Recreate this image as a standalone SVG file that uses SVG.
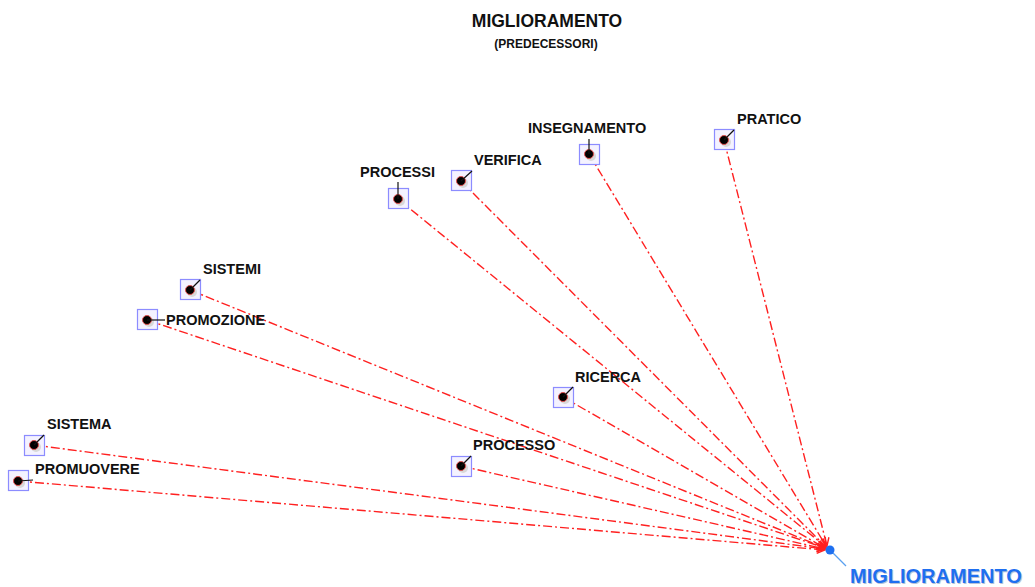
<svg xmlns="http://www.w3.org/2000/svg" width="1035" height="587" viewBox="0 0 1035 587">
  <style>
    .title { font-family: "Liberation Sans", Arial, sans-serif; font-weight: bold; fill: #111; }
    .lbl { font-family: "Liberation Sans", Arial, sans-serif; font-weight: bold; font-size: 14.5px; fill: #111; }
    .box { fill: #f4f2ff; stroke: #8c8cff; stroke-width: 1.2; }
    .halo { fill: #d8d8d8; }
    .dot { fill: #000; stroke: #e05050; stroke-width: 1; }
    .tick { stroke: #111; stroke-width: 1.2; fill: none; }
    .edge { stroke: #ff2020; stroke-width: 1.4; fill: none; stroke-dasharray: 9 3 2 3; marker-end: url(#arr); }
    .big { font-family: "Liberation Sans", Arial, sans-serif; font-weight: bold; font-size: 20px; }
  </style>
  <defs>
    <marker id="arr" markerWidth="10" markerHeight="10" refX="9" refY="5" orient="auto" markerUnits="userSpaceOnUse">
      <path d="M1,1 L9,5 L1,9" fill="none" stroke="#ff2020" stroke-width="1.4"/>
    </marker>
  </defs>

  <rect width="1035" height="587" fill="#fff"/>

  <text class="title" x="547" y="27" font-size="17.5" text-anchor="middle">MIGLIORAMENTO</text>
  <text class="title" x="546" y="48" font-size="12" text-anchor="middle">(PREDECESSORI)</text>

  <g id="connectors">
    <line class="edge" x1="724" y1="140" x2="827" y2="546"/>
    <line class="edge" x1="589" y1="154" x2="826" y2="546"/>
    <line class="edge" x1="461" y1="181" x2="826" y2="547"/>
    <line class="edge" x1="398" y1="199" x2="826" y2="547"/>
    <line class="edge" x1="190" y1="290" x2="825" y2="548"/>
    <line class="edge" x1="147" y1="320" x2="825" y2="548"/>
    <line class="edge" x1="563" y1="397" x2="825" y2="548"/>
    <line class="edge" x1="461" y1="466" x2="825" y2="549"/>
    <line class="edge" x1="34" y1="445" x2="825" y2="549"/>
    <line class="edge" x1="18" y1="481" x2="825" y2="550"/>
    <line x1="830" y1="550" x2="846" y2="566" stroke="#5aa0f0" stroke-width="1.3"/>
  </g>

  <g id="node-pratico">
    <rect class="box" x="714.5" y="129.5" width="20" height="20"/>
    <circle class="halo" cx="726" cy="142" r="5"/>
    <circle class="dot" cx="724" cy="140" r="4.5"/>
    <line class="tick" x1="724" y1="140" x2="734" y2="130"/>
    <text class="lbl" x="737" y="124">PRATICO</text>
  </g>

  <g id="node-insegnamento">
    <rect class="box" x="579.5" y="144.5" width="20" height="20"/>
    <circle class="halo" cx="591" cy="156" r="5"/>
    <circle class="dot" cx="589" cy="154" r="4.5"/>
    <line class="tick" x1="589" y1="154" x2="589" y2="139"/>
    <text class="lbl" x="528" y="133">INSEGNAMENTO</text>
  </g>

  <g id="node-verifica">
    <rect class="box" x="451.5" y="170.5" width="20" height="20"/>
    <circle class="halo" cx="463" cy="183" r="5"/>
    <circle class="dot" cx="461" cy="181" r="4.5"/>
    <line class="tick" x1="461" y1="181" x2="472" y2="171"/>
    <text class="lbl" x="474" y="165">VERIFICA</text>
  </g>

  <g id="node-processi">
    <rect class="box" x="388.5" y="188.5" width="20" height="20"/>
    <circle class="halo" cx="400" cy="201" r="5"/>
    <circle class="dot" cx="398" cy="199" r="4.5"/>
    <line class="tick" x1="398" y1="199" x2="398" y2="182"/>
    <text class="lbl" x="360" y="177">PROCESSI</text>
  </g>

  <g id="node-sistemi">
    <rect class="box" x="180.5" y="279.5" width="20" height="20"/>
    <circle class="halo" cx="192" cy="292" r="5"/>
    <circle class="dot" cx="190" cy="290" r="4.5"/>
    <line class="tick" x1="190" y1="290" x2="200" y2="280"/>
    <text class="lbl" x="203" y="274">SISTEMI</text>
  </g>

  <g id="node-promozione">
    <rect class="box" x="137.5" y="309.5" width="20" height="20"/>
    <circle class="halo" cx="149" cy="322" r="5"/>
    <circle class="dot" cx="147" cy="320" r="4.5"/>
    <line class="tick" x1="147" y1="320" x2="165" y2="320"/>
    <text class="lbl" x="166" y="325">PROMOZIONE</text>
  </g>

  <g id="node-ricerca">
    <rect class="box" x="553.5" y="387.5" width="20" height="20"/>
    <circle class="halo" cx="565" cy="399" r="5"/>
    <circle class="dot" cx="563" cy="397" r="4.5"/>
    <line class="tick" x1="563" y1="397" x2="573" y2="387"/>
    <text class="lbl" x="575" y="382">RICERCA</text>
  </g>

  <g id="node-processo">
    <rect class="box" x="451.5" y="456.5" width="20" height="20"/>
    <circle class="halo" cx="463" cy="468" r="5"/>
    <circle class="dot" cx="461" cy="466" r="4.5"/>
    <line class="tick" x1="461" y1="466" x2="471" y2="456"/>
    <text class="lbl" x="473" y="450">PROCESSO</text>
  </g>

  <g id="node-sistema">
    <rect class="box" x="24.5" y="435.5" width="20" height="20"/>
    <circle class="halo" cx="36" cy="447" r="5"/>
    <circle class="dot" cx="34" cy="445" r="4.5"/>
    <line class="tick" x1="34" y1="445" x2="44" y2="435"/>
    <text class="lbl" x="47" y="429">SISTEMA</text>
  </g>

  <g id="node-promuovere">
    <rect class="box" x="8.5" y="470.5" width="20" height="20"/>
    <circle class="halo" cx="20" cy="483" r="5"/>
    <circle class="dot" cx="18" cy="481" r="4.5"/>
    <line class="tick" x1="18" y1="481" x2="33" y2="480"/>
    <text class="lbl" x="35" y="474">PROMUOVERE</text>
  </g>

  <g id="node-miglioramento">
    <circle cx="830" cy="550" r="4.5" fill="#1e6ff0"/>
    <text class="big" x="851" y="584" fill="#b8c4d8">MIGLIORAMENTO</text>
    <text class="big" x="850" y="583" fill="#1e6ff0">MIGLIORAMENTO</text>
  </g>
</svg>
